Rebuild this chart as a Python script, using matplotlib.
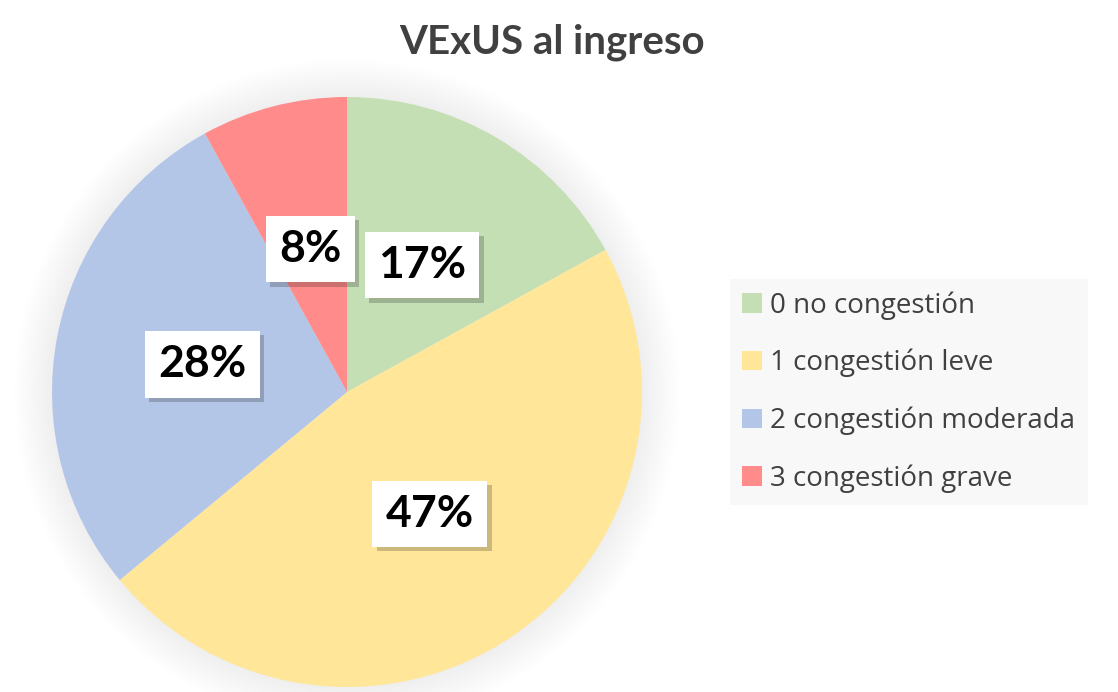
import matplotlib
matplotlib.use("Agg")
import matplotlib.pyplot as plt
import matplotlib.patheffects as pe
from matplotlib.patches import Circle

plt.rcParams["font.family"] = ["Lato", "DejaVu Sans"]

# data
categories = ["0 no congestión", "1 congestión leve", "2 congestión moderada", "3 congestión grave"]
shares = [17, 47, 28, 8]
colors = ["#C5DFB4", "#FFE699", "#B4C6E7", "#FF8B8B"]

fig = plt.figure(figsize=(11.18, 6.92), dpi=100)

# pie axes: center (347, 392) px, radius ~295 px, limits +-1.15
r_px = 295 * 1.15
cx, cy = 347, 692 - 392
ax = fig.add_axes([(cx - r_px) / 1118, (cy - r_px) / 692, 2 * r_px / 1118, 2 * r_px / 692])

# soft glow around the pie
for i in range(16):
    rad = 1.0 + 0.008 * (16 - i)
    ax.add_patch(Circle((0, 0), rad, color="#000000", alpha=0.005, lw=0, zorder=0))

wedges, texts, autotexts = ax.pie(
    shares, colors=colors, startangle=90, counterclock=False,
    autopct="%1.0f%%", pctdistance=0.5, radius=1.0,
    wedgeprops=dict(linewidth=0, zorder=1),
    textprops=dict(fontsize=32, fontweight="bold", color="black"),
)
ax.set_xlim(-1.15, 1.15)
ax.set_ylim(-1.15, 1.15)
ax.set_aspect("equal")
ax.axis("off")

for t in autotexts:
    t.set_zorder(5)
    t.set_bbox(dict(boxstyle="square,pad=0.3", facecolor="white", edgecolor="none"))
    t.get_bbox_patch().set_path_effects([
        pe.SimplePatchShadow(offset=(3, -3), shadow_rgbFace="#000000", alpha=0.2),
        pe.Normal(),
    ])

fig.text(552 / 1118, 1 - 42 / 692, "VExUS al ingreso", ha="center", va="center",
         fontsize=29, fontweight="bold", color="#404040")

leg = fig.legend(wedges, categories, loc="center left",
                 bbox_to_anchor=(730 / 1118, 1 - 392 / 692), borderaxespad=0,
                 prop=dict(family=["Open Sans", "DejaVu Sans"], size=20),
                 frameon=True, handlelength=0.7, handleheight=0.7,
                 handletextpad=0.3, labelspacing=1.05, borderpad=0.45,
                 fancybox=False, labelcolor="#404040")
leg.get_frame().set_facecolor("#F7F7F7")
leg.get_frame().set_edgecolor("none")

fig.savefig("out.png", dpi=100)
